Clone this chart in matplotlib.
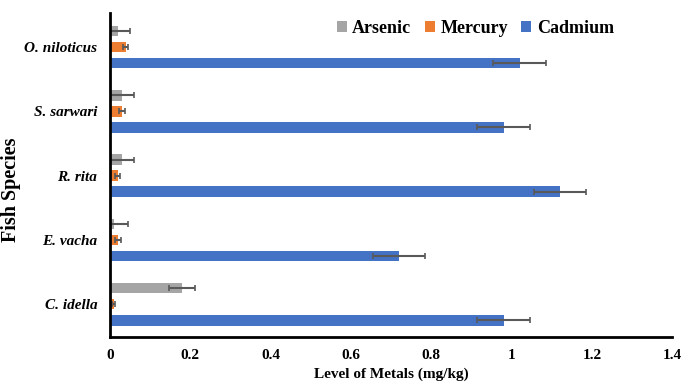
import matplotlib.pyplot as plt
import numpy as np

species = ['C. idella', 'E. vacha', 'R. rita', 'S. sarwari', 'O. niloticus']
arsenic = [0.18, 0.01, 0.03, 0.03, 0.02]
arsenic_err = [0.033, 0.035, 0.03, 0.03, 0.03]
mercury = [0.01, 0.02, 0.02, 0.03, 0.04]
mercury_err = [0.004, 0.007, 0.006, 0.007, 0.006]
cadmium = [0.98, 0.72, 1.12, 0.98, 1.02]
cadmium_err = [0.065, 0.065, 0.065, 0.065, 0.065]

xticks = [0, 0.2, 0.4, 0.6, 0.8, 1, 1.2, 1.4]
xtick_labels = ['0', '0.2', '0.4', '0.6', '0.8', '1', '1.2', '1.4']


def make_graph():
    plt.rcParams['font.family'] = ['Liberation Serif', 'DejaVu Serif']
    fig = plt.figure(figsize=(6.86, 3.82), dpi=100)
    ax = fig.add_axes([0.160, 0.118, 0.820, 0.848])

    y = np.arange(len(species))
    h = 0.165
    err_style = dict(ecolor='#595959', elinewidth=1.5, capsize=2.5, capthick=1.2)

    ax.barh(y + 0.25, arsenic, height=h, color='#A5A5A5', label='Arsenic',
            xerr=arsenic_err, error_kw=err_style)
    ax.barh(y, mercury, height=h, color='#ED7D31', label='Mercury',
            xerr=mercury_err, error_kw=err_style)
    ax.barh(y - 0.25, cadmium, height=h, color='#4472C4', label='Cadmium',
            xerr=cadmium_err, error_kw=err_style)

    ax.set_xlim(0, 1.4)
    ax.set_ylim(-0.51, 4.53)
    ax.set_xticks(xticks)
    ax.set_xticklabels(xtick_labels, fontsize=11, fontweight='bold')
    ax.set_yticks(y)
    ax.set_yticklabels(species, fontsize=11, fontweight='bold', fontstyle='italic')
    ax.tick_params(axis='both', length=0)
    ax.tick_params(axis='x', pad=9)
    ax.tick_params(axis='y', pad=9)

    for side in ['top', 'right']:
        ax.spines[side].set_visible(False)
    for side in ['left', 'bottom']:
        ax.spines[side].set_linewidth(2)
        ax.spines[side].set_color('black')

    ax.set_xlabel('Level of Metals (mg/kg)', fontsize=11, fontweight='bold', labelpad=4)
    ax.set_ylabel('Fish Species', fontsize=14.5, fontweight='bold')
    ax.yaxis.set_label_coords(-0.158, 0.455)

    ax.legend(loc='upper right', bbox_to_anchor=(0.925, 1.03), ncol=3, frameon=False,
              prop={'size': 13, 'weight': 'bold'}, handlelength=0.55,
              handleheight=0.55, handletextpad=0.3, columnspacing=0.75)

    fig.savefig('out.png', dpi=100)


make_graph()
